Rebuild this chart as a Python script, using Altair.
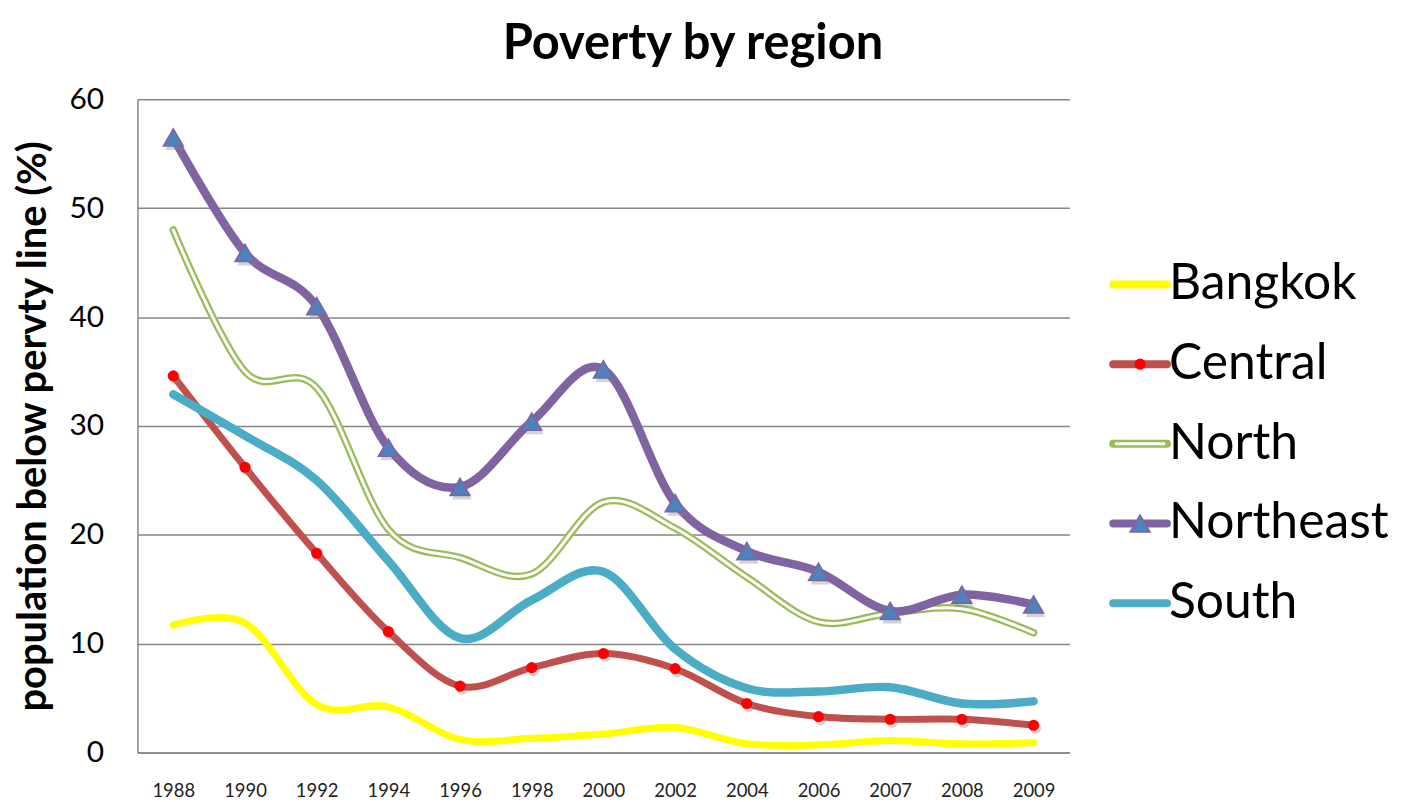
import altair as alt
import pandas as pd

years = ["1988", "1990", "1992", "1994", "1996", "1998", "2000", "2002", "2004", "2006", "2007", "2008", "2009"]
series = ["Bangkok", "Central", "North", "Northeast", "South"]
colors = ["#FFFF00", "#C0504D", "#9BBB59", "#8064A2", "#4BACC6"]

bangkok = [11.7, 11.9, 4.4, 4.2, 1.2, 1.3, 1.7, 2.3, 0.8, 0.7, 1.1, 0.8, 0.9]
central = [34.6, 26.2, 18.3, 11.1, 6.1, 7.8, 9.1, 7.7, 4.5, 3.3, 3.05, 3.05, 2.5]
north = [48.0, 35.0, 33.5, 20.5, 17.9, 16.4, 23.0, 20.6, 16.1, 12.0, 12.8, 13.2, 11.0]
northeast = [56.5, 45.9, 41.0, 28.0, 24.4, 30.4, 35.2, 22.9, 18.5, 16.6, 13.0, 14.5, 13.6]
south = [32.9, 29.1, 25.0, 17.6, 10.5, 14.0, 16.6, 9.5, 5.9, 5.6, 6.0, 4.5, 4.7]

values = {"Bangkok": bangkok, "Central": central, "North": north, "Northeast": northeast, "South": south}
rows = []
for s in series:
    for y, v in zip(years, values[s]):
        rows.append({"year": y, "series": s, "value": v})
df = pd.DataFrame(rows)

FONT = "Lato"
GRID = "#868686"

x_enc = alt.X("year:O", sort=years,
              scale=alt.Scale(type="point", padding=0.5),
              axis=alt.Axis(title=None, labelAngle=0, ticks=False, labelFontSize=18.5,
                            labelFont=FONT, labelColor="#222222", labelPadding=29,
                            domainColor=GRID, domainWidth=1.5, grid=False))
y_enc = alt.Y("value:Q", scale=alt.Scale(domain=[0, 60], nice=False),
              axis=alt.Axis(values=[0, 10, 20, 30, 40, 50, 60], grid=True, gridColor=GRID,
                            gridWidth=1.5, domainColor=GRID, domainWidth=1.5, ticks=False,
                            labelFontSize=30, labelFont=FONT, labelColor="black", labelPadding=34,
                            title="population below pervty line (%)", titleFontSize=40,
                            titleFont=FONT, titleFontWeight="bold", titleColor="black",
                            titlePadding=16))

base = alt.Chart(df).encode(x=x_enc, y=y_enc)

def line(name, width, color):
    return base.transform_filter(alt.datum.series == name).mark_line(
        interpolate="cardinal", strokeWidth=width, color=color, strokeCap="round")

layers = [
    line("Bangkok", 7, "#FFFF00"),
    line("Central", 7, "#C0504D"),
    base.transform_filter(alt.datum.series == "Central").mark_point(
        shape="circle", filled=True, size=125, color="gray", opacity=0.35, xOffset=2, yOffset=3),
    base.transform_filter(alt.datum.series == "Central").mark_point(
        shape="circle", filled=True, size=125, color="#FF0000", opacity=1),
    line("North", 7.5, "#9BBB59"),
    line("North", 3, "#FFFFFF"),
    line("Northeast", 8.5, "#8064A2"),
    base.transform_filter(alt.datum.series == "Northeast").mark_point(
        shape="triangle-up", filled=True, size=400, color="gray", opacity=0.35, xOffset=2, yOffset=4),
    base.transform_filter(alt.datum.series == "Northeast").mark_point(
        shape="triangle-up", filled=True, size=400, fill="#4F81BD", stroke="#8064A2",
        strokeWidth=1.5, opacity=1),
    line("South", 8.5, "#4BACC6"),
]
main = alt.layer(*layers).properties(width=936, height=656)

leg = pd.DataFrame({"series": series, "color": colors})
ly = alt.Y("series:N", sort=series,
           scale=alt.Scale(type="point", domain=series, range=[186, 506], padding=0), axis=None)
lbase = alt.Chart(leg).encode(y=ly)
lcolor = alt.Color("series:N", scale=alt.Scale(domain=series, range=colors), legend=None)
legend = alt.layer(
    lbase.mark_rule(strokeWidth=8, strokeCap="round").encode(x=alt.value(3), x2=alt.value(57), color=lcolor),
    lbase.transform_filter(alt.datum.series == "North").mark_rule(strokeWidth=3, strokeCap="round", color="white").encode(
        x=alt.value(6), x2=alt.value(54)),
    lbase.transform_filter(alt.datum.series == "Central").mark_point(
        shape="circle", filled=True, size=125, color="#FF0000", opacity=1).encode(x=alt.value(30)),
    lbase.transform_filter(alt.datum.series == "Northeast").mark_point(
        shape="triangle-up", filled=True, size=400, fill="#4F81BD", stroke="#8064A2",
        strokeWidth=1.5, opacity=1).encode(x=alt.value(30)),
    lbase.mark_text(align="left", baseline="middle", fontSize=50, font=FONT, color="black").encode(
        x=alt.value(59), text="series:N"),
).properties(width=270, height=656)

chart = alt.hconcat(main, legend, spacing=40).properties(
    title=alt.TitleParams("Poverty by region", fontSize=49, font=FONT, fontWeight="bold",
                          color="black", anchor="middle", offset=16, dx=-8),
    padding={"top": 10, "left": 5, "right": 5, "bottom": 5},
).configure_view(stroke=None)

chart.save("out.html", embed_options={"renderer": "svg", "actions": False})
